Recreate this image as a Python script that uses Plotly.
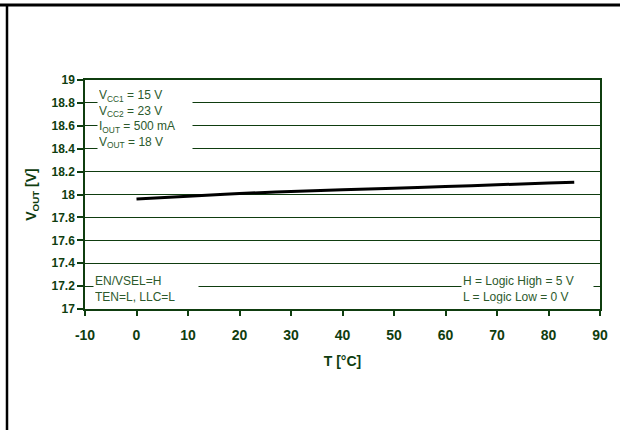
import plotly.graph_objects as go

temperature = [0, 10, 20, 30, 40, 50, 60, 70, 80, 85]
vout = [17.96, 17.985, 18.008, 18.027, 18.042, 18.055, 18.07, 18.085, 18.1, 18.108]

x_ticks = [-10, 0, 10, 20, 30, 40, 50, 60, 70, 80, 90]
x_tick_labels = ["-10", "0", "10", "20", "30", "40", "50", "60", "70", "80", "90"]
y_ticks = [17, 17.2, 17.4, 17.6, 17.8, 18, 18.2, 18.4, 18.6, 18.8, 19]
y_tick_labels = ["17", "17.2", "17.4", "17.6", "17.8", "18", "18.2", "18.4", "18.6", "18.8", "19"]

GREEN = "#0f3d0f"
TXT = "#2c5a2c"
FONT = "Liberation Sans, Arial, sans-serif"

fig = go.Figure()
fig.add_trace(go.Scatter(x=temperature, y=vout, mode="lines",
                         line=dict(color="black", width=3), showlegend=False,
                         line_shape="spline", hoverinfo="skip"))

W, H = 620, 430
L, R, T, B = 85, 20, 80, 121
pw, ph = W - L - R, H - T - B

def px(x):
    return (x - L) / pw

def py(y):
    return (H - B - y) / ph

fig.update_layout(
    width=W, height=H,
    margin=dict(l=L, r=R, t=T, b=B),
    paper_bgcolor="white", plot_bgcolor="white",
    font=dict(family=FONT, color=GREEN),
    xaxis=dict(range=[-10, 90], tickvals=x_ticks, ticktext=x_tick_labels,
               showgrid=False, zeroline=False,
               showline=True, linecolor=GREEN, linewidth=1.5, mirror=True,
               ticks="outside", ticklen=5, tickwidth=1.5, tickcolor=GREEN,
               tickfont=dict(family=FONT, size=14, color=GREEN, weight="bold"),
               ticklabelstandoff=7,
               title=dict(text="<b>T [°C]</b>", font=dict(family=FONT, size=14, color=GREEN),
                          standoff=15)),
    yaxis=dict(range=[17, 19], tickvals=y_ticks, ticktext=y_tick_labels,
               showgrid=True, gridcolor=GREEN, gridwidth=1.3, zeroline=False,
               showline=True, linecolor=GREEN, linewidth=1.5, mirror=True,
               ticks="outside", ticklen=6, tickwidth=1.5, tickcolor=GREEN,
               tickfont=dict(family=FONT, size=12, color=GREEN, weight="bold"),
               title=dict(text="<b>V<sub>OUT</sub> [V]</b>", font=dict(family=FONT, size=14, color=GREEN),
                          standoff=12)),
)

fig.add_annotation(xref="paper", yref="paper", x=px(97), y=py(86), xanchor="left", yanchor="top",
                   text="V<sub>CC1</sub> = 15 V<br>V<sub>CC2</sub> = 23 V<br>I<sub>OUT</sub> = 500 mA<br>V<sub>OUT</sub> = 18 V",
                   showarrow=False, align="left", bgcolor="white", width=92, borderpad=1,
                   font=dict(family=FONT, size=12, color=TXT))
fig.add_annotation(xref="paper", yref="paper", x=px(93), y=py(272), xanchor="left", yanchor="top",
                   text="EN/VSEL=H<br>TEN=L, LLC=L",
                   showarrow=False, align="left", bgcolor="white", width=102, borderpad=1,
                   font=dict(family=FONT, size=12, color=TXT))
fig.add_annotation(xref="paper", yref="paper", x=px(594), y=py(272), xanchor="right", yanchor="top",
                   text="H = Logic High = 5 V<br>L = Logic Low = 0 V",
                   showarrow=False, align="left", bgcolor="white", width=129, borderpad=1,
                   font=dict(family=FONT, size=12, color=TXT))

fig.add_shape(type="line", xref="paper", yref="paper", x0=px(0), x1=px(620), y0=py(5), y1=py(5),
              line=dict(color="black", width=3))
fig.add_shape(type="line", xref="paper", yref="paper", x0=px(7), x1=px(7), y0=py(5), y1=py(430),
              line=dict(color="black", width=2.5))

fig.write_html("out.html", config={"displayModeBar": False},
               post_script="document.body.style.margin='0';")
